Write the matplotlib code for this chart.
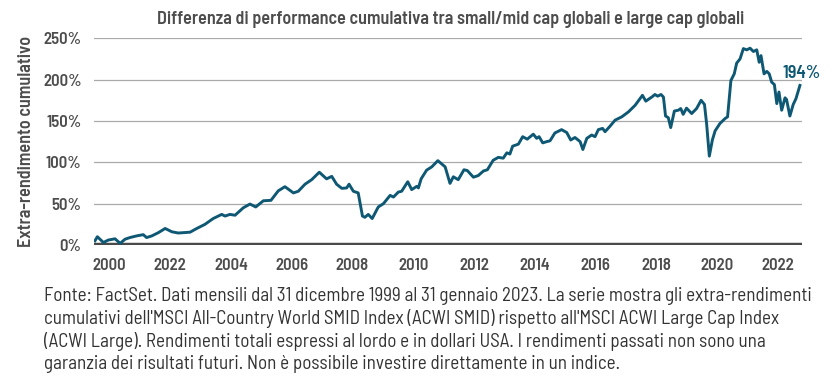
import numpy as np
import matplotlib.pyplot as plt
from matplotlib.ticker import FuncFormatter

# dati (anno decimale, extra-rendimento cumulativo in %)
anni = [
    2000.03, 2000.11, 2000.31, 2000.47, 2000.69, 2000.86, 2001.02, 2001.18, 2001.40, 2001.62,
    2001.73, 2001.90, 2002.12, 2002.34, 2002.56, 2002.77, 2003.16, 2003.38, 2003.65, 2003.92,
    2004.20, 2004.31, 2004.47, 2004.64, 2004.91, 2005.13, 2005.32, 2005.57, 2005.82, 2006.06,
    2006.28, 2006.56, 2006.72, 2006.94, 2007.16, 2007.41, 2007.65, 2007.82, 2007.98, 2008.15,
    2008.31, 2008.39, 2008.53, 2008.69, 2008.83, 2008.91, 2009.02, 2009.15, 2009.35, 2009.52,
    2009.74, 2009.85, 2010.01, 2010.12, 2010.32, 2010.45, 2010.62, 2010.67, 2010.76, 2010.94,
    2011.11, 2011.31, 2011.55, 2011.71, 2011.82, 2011.98, 2012.17, 2012.28, 2012.48, 2012.64,
    2012.81, 2012.94, 2013.13, 2013.30, 2013.46, 2013.58, 2013.68, 2013.77, 2013.96, 2014.10,
    2014.25, 2014.45, 2014.56, 2014.64, 2014.76, 2014.89, 2015.00, 2015.16, 2015.38, 2015.55,
    2015.68, 2015.82, 2015.99, 2016.08, 2016.21, 2016.37, 2016.48, 2016.59, 2016.73, 2016.81,
    2016.97, 2017.14, 2017.36, 2017.58, 2017.80, 2018.04, 2018.15, 2018.35, 2018.45, 2018.54,
    2018.65, 2018.73, 2018.80, 2018.89, 2018.97, 2019.09, 2019.22, 2019.30, 2019.38, 2019.49,
    2019.66, 2019.82, 2019.97, 2020.08, 2020.15, 2020.24, 2020.34, 2020.43, 2020.59, 2020.76,
    2020.84, 2020.95, 2021.06, 2021.14, 2021.25, 2021.36, 2021.47, 2021.58, 2021.69, 2021.80,
    2021.88, 2021.94, 2022.04, 2022.13, 2022.21, 2022.29, 2022.38, 2022.46, 2022.53, 2022.62,
    2022.73, 2022.78, 2022.89, 2023.00, 2023.09, 2023.22,
]
extra_rend = [
    5, 10, 3, 6, 7.5, 2, 7, 9, 11, 12.5,
    9, 11, 15, 20, 16, 14.5, 15.5, 20, 25, 32,
    37, 35, 37, 36, 45, 49.5, 46, 53.5, 54, 65.5,
    70.5, 63, 65, 73.5, 79, 88, 80, 83, 73.5, 68.5,
    69, 73.5, 65, 63, 35, 33.5, 37, 32, 46, 50,
    60, 58, 64, 65, 76.5, 67, 71, 69, 80, 90.5,
    94.5, 102, 94.5, 74.5, 82.5, 79, 91, 90, 82, 84,
    89.5, 91, 102.5, 106, 105, 111.5, 110, 119.5, 122, 131,
    128, 134, 129, 131, 123.5, 125, 126, 135.5, 139.5, 136,
    127, 130, 125, 115.5, 129, 133, 131, 139.5, 141, 137,
    143.5, 151, 155, 161, 169, 181, 174, 179, 182, 180,
    182, 179, 156, 154, 142, 162, 163, 165, 158, 165.5,
    159, 165, 175, 170, 147, 107.5, 127, 138, 147, 153,
    155, 199, 207, 220, 225, 237.5, 236, 238, 234, 236,
    221, 229, 207, 210, 207, 197, 194, 171, 185, 163,
    178, 176, 156, 170, 177, 193,
]
anni_tick = [2000, 2002, 2004, 2006, 2008, 2010, 2012, 2014, 2016, 2018, 2020, 2022]
etichette_x = ['2000', '2022', '2004', '2006', '2008', '2010', '2012', '2014',
               '2016', '2018', '2020', '2022']
valori_y = [0, 50, 100, 150, 200, 250]
ultimo_valore = '194%'

titolo = 'Differenza di performance cumulativa tra small/mid cap globali e large cap globali'
nota = ("Fonte: FactSet. Dati mensili dal 31 dicembre 1999 al 31 gennaio 2023. La serie mostra gli extra-rendimenti\n"
        "cumulativi dell'MSCI All-Country World SMID Index (ACWI SMID) rispetto all'MSCI ACWI Large Cap Index\n"
        "(ACWI Large). Rendimenti totali espressi al lordo e in dollari USA. I rendimenti passati non sono una\n"
        "garanzia dei risultati futuri. Non è possibile investire direttamente in un indice.")

famiglia = ['Barlow Semi Condensed', 'Roboto Condensed', 'DejaVu Sans']
plt.rcParams['font.family'] = famiglia

colore_linea = '#0f5874'
grigio = '#4d4d4d'

fig = plt.figure(figsize=(8.32, 3.76), dpi=100)
ax = fig.add_axes([0.113, 0.3484, 0.851, 0.5498])

ax.plot(anni, extra_rend, color=colore_linea, lw=2.1, zorder=3)
for v in valori_y[1:]:
    ax.axhline(v, color='#aaaaaa', lw=0.9, zorder=1)
ax.axhline(0, color='#4a4a4a', lw=3.2, zorder=2)

ax.set_xlim(2000.0, 2023.29)
ax.set_ylim(0, 250)
for s in ax.spines.values():
    s.set_visible(False)

ax.set_xticks([a + 0.5 for a in anni_tick])
ax.set_xticklabels(etichette_x)
ax.set_yticks(valori_y)
ax.yaxis.set_major_formatter(FuncFormatter(lambda v, p: f'{v:.0f}%'))
ax.tick_params(axis='both', length=0, labelsize=12, labelcolor=grigio)
ax.tick_params(axis='x', pad=9)
ax.tick_params(axis='y', pad=9)
for lab in ax.get_xticklabels() + ax.get_yticklabels():
    lab.set_fontweight(600)

ax.set_ylabel('Extra-rendimento cumulativo', fontsize=13, fontweight=600, color=grigio)
ax.yaxis.set_label_coords(-0.084, 0.5)

ax.text(anni[-1] + 0.05, 207, ultimo_valore, color=colore_linea, fontsize=13,
        fontweight=600, ha='center', va='center')

fig.text(0.542, 0.947, titolo, ha='center', va='center', fontsize=13,
         fontweight=600, color=grigio)
fig.text(0.053, 0.236, nota, ha='left', va='top', fontsize=13.7, color='#333333',
         linespacing=1.27)

fig.savefig('out.png', dpi=100)
